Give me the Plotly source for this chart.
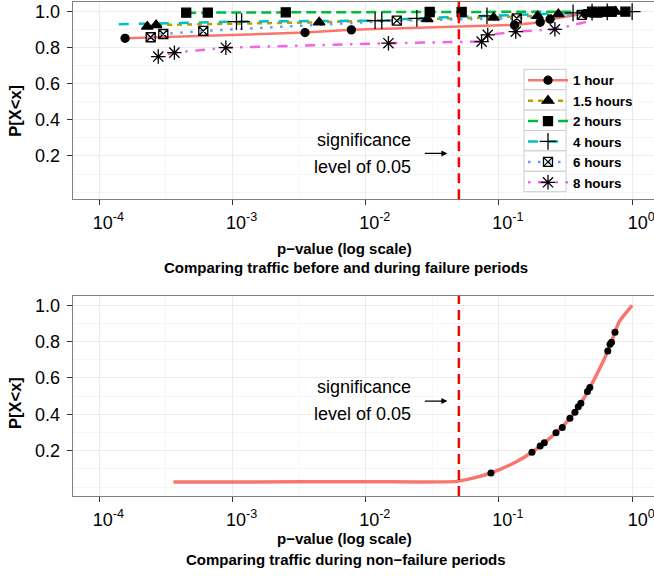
import numpy as np
import plotly.graph_objects as go

W, H = 654, 576
FONT = "Liberation Sans, Arial, Helvetica, sans-serif"

SERIES = ["1 hour", "1.5 hours", "2 hours", "4 hours", "6 hours", "8 hours"]
COLORS = ["#F8766D", "#B79F00", "#00BA38", "#00BFC4", "#619CFF", "#F564E3"]
SYMBOLS = ["circle", "triangle-up", "square", "cross-thin-open", "square-x-open", "asterisk-open"]
MSIZES = [8, 10, 9, 12, 9, 12]
DASHES = ["solid", "5px,5px", "10px,5px", "10px,10px", "2.5px,7.5px", "2.5px,7.5px,10px,7.5px"]

ALPHA = 0.05

# ---- top panel: p-values and empirical CDF; MARK = 1 if a symbol is drawn
P_1H = [1.56e-4, 3.5e-3, 7.8e-3, 0.131, 0.204, 0.242, 0.444, 0.49, 0.55, 0.62, 0.70]
F_1H = [0.852, 0.884, 0.899, 0.926, 0.941, 0.958, 0.989, 0.992, 0.995, 0.998, 1.0]
M_1H = [1, 1, 1, 1, 1, 1, 1, 1, 1, 1, 1]

P_15H = [2.29e-4, 2.67e-4, 4.47e-3, 0.029, 0.0912, 0.195, 0.279, 0.50, 0.60, 0.75]
F_15H = [0.917, 0.926, 0.941, 0.958, 0.967, 0.976, 0.986, 0.992, 0.995, 1.0]
M_15H = [1, 1, 1, 1, 1, 1, 1, 1, 1, 1]

P_2H = [4.49e-4, 6.52e-4, 2.51e-3, 0.0302, 0.0525, 0.50, 0.60, 0.70, 0.89]
F_2H = [0.994, 0.995, 0.996, 0.998, 0.999, 1.0, 1.0, 1.0, 1.0]
M_2H = [1, 1, 1, 1, 1, 1, 1, 1, 1]

P_4H = [1.4e-4, 1.07e-3, 1.17e-3, 0.01175, 0.0132, 0.0242, 0.0813, 0.36, 0.50, 0.65, 1.0]
F_4H = [0.930, 0.945, 0.945, 0.950, 0.950, 0.963, 0.976, 0.993, 0.997, 0.999, 1.0]
M_4H = [0, 1, 1, 1, 1, 1, 1, 1, 1, 1, 1]

P_6H = [2.43e-4, 3.02e-4, 6.03e-4, 0.0171, 0.136, 0.419, 0.55, 0.70]
F_6H = [0.858, 0.876, 0.893, 0.950, 0.963, 0.982, 0.995, 1.0]
M_6H = [1, 1, 1, 1, 1, 1, 1, 1]

P_8H = [2.77e-4, 3.66e-4, 8.91e-4, 0.0148, 0.0741, 0.0824, 0.1337, 0.263, 0.50]
F_8H = [0.751, 0.773, 0.800, 0.825, 0.834, 0.871, 0.889, 0.902, 0.950]
M_8H = [1, 1, 1, 1, 1, 1, 1, 1, 0]

TOP_P = [P_1H, P_15H, P_2H, P_4H, P_6H, P_8H]
TOP_F = [F_1H, F_15H, F_2H, F_4H, F_6H, F_8H]
TOP_M = [M_1H, M_15H, M_2H, M_4H, M_6H, M_8H]

# ---- bottom panel
BOT_LINE_P = [3.6e-4, 1e-3, 1e-2, 0.048, 0.065, 0.087, 0.135, 0.177, 0.219, 0.268,
              0.341, 0.412, 0.481, 0.56, 0.656, 0.743, 0.80, 1.0]
BOT_LINE_F = [0.027, 0.028, 0.029, 0.031, 0.050, 0.077, 0.139, 0.191, 0.244, 0.299,
              0.378, 0.461, 0.547, 0.640, 0.748, 0.851, 0.910, 1.0]
BOT_DOT_P = [0.0871, 0.177, 0.204, 0.219, 0.268, 0.299, 0.341, 0.372, 0.394, 0.412,
             0.462, 0.481, 0.656, 0.682, 0.700, 0.743]
BOT_DOT_F = [0.077, 0.191, 0.226, 0.244, 0.299, 0.328, 0.378, 0.411, 0.442, 0.461,
             0.525, 0.547, 0.748, 0.785, 0.796, 0.851]

X_TICKS = [1e-4, 1e-3, 1e-2, 1e-1, 1.0]
X_TICKTEXT = ["10<sup>-4</sup>", "10<sup>-3</sup>", "10<sup>-2</sup>", "10<sup>-1</sup>", "10<sup>0</sup>"]
Y_TICKS = [0.2, 0.4, 0.6, 0.8, 1.0]
Y_TICKTEXT = ["0.2", "0.4", "0.6", "0.8", "1.0"]

X_TITLE = "p\u2212value (log scale)"
TOP_CAPTION = "Comparing traffic before and during failure periods"
BOT_CAPTION = "Comparing traffic during non\u2212failure periods"
Y_TITLE = "P[X&lt;x]"

# ---------------- layout geometry (pixels) ----------------
PX_LEFT = 72.7
TOP_T, TOP_B = 1.7, 199.3
BOT_T, BOT_B = 296.0, 496.0
KEY_L, KEY_R, KEY_T, KEY_H = 524.0, 566.0, 69.3, 20.4


def fy(py):
    return 1 - py / H


def fx(px):
    return px / W


fig = go.Figure()

# top panel traces
for name, col, sym, ms, dash, P, F, M in zip(SERIES, COLORS, SYMBOLS, MSIZES, DASHES, TOP_P, TOP_F, TOP_M):
    fig.add_trace(go.Scatter(x=P, y=F, mode="lines", line=dict(color=col, width=2.5, dash=dash),
                             showlegend=False, hoverinfo="skip", xaxis="x", yaxis="y"))
for name, col, sym, ms, dash, P, F, M in zip(SERIES, COLORS, SYMBOLS, MSIZES, DASHES, TOP_P, TOP_F, TOP_M):
    px_ = [p for p, m in zip(P, M) if m]
    fy_ = [f for f, m in zip(F, M) if m]
    fig.add_trace(go.Scatter(x=px_, y=fy_, mode="markers",
                             marker=dict(symbol=sym, size=ms, color="black",
                                         line=dict(color="black", width=1.3)),
                             showlegend=False, xaxis="x", yaxis="y"))
# legend entries
for name, col, sym, ms, dash in zip(SERIES, COLORS, SYMBOLS, MSIZES, DASHES):
    fig.add_trace(go.Scatter(x=[None], y=[None], mode="lines+markers", name=name,
                             line=dict(color=col, width=2.5, dash=dash),
                             marker=dict(symbol=sym, size=ms, color="black",
                                         line=dict(color="black", width=1.3)),
                             xaxis="x", yaxis="y"))

# bottom panel traces
fig.add_trace(go.Scatter(x=BOT_LINE_P, y=BOT_LINE_F, mode="lines",
                         line=dict(color=COLORS[0], width=3.5, shape="spline", smoothing=0.6),
                         showlegend=False, xaxis="x2", yaxis="y2"))
fig.add_trace(go.Scatter(x=BOT_DOT_P, y=BOT_DOT_F, mode="markers",
                         marker=dict(size=7, color="black"), showlegend=False,
                         xaxis="x2", yaxis="y2"))

XMIN_LOG = -4.2
XMAX_LOG = 0.164


def xaxis_cfg(anchor):
    return dict(type="log", domain=[fx(PX_LEFT), 1.0], range=[XMIN_LOG, XMAX_LOG],
                tickmode="array", tickvals=X_TICKS, ticktext=X_TICKTEXT,
                ticks="outside", ticklen=5, tickwidth=1, tickcolor="#333333",
                showline=True, linecolor="#808080", linewidth=1, mirror=True,
                showgrid=True, gridcolor="#EBEBEB", gridwidth=1, zeroline=False,
                minor=dict(tickvals=[10 ** (k + 0.5) for k in range(-5, 1)], showgrid=True,
                           gridcolor="#F6F6F6", gridwidth=1, ticks=""),
                tickfont=dict(family=FONT, size=18, color="#000000"),
                ticklabelshift=9, ticklabelstandoff=2, ticklabeloverflow="allow",
                anchor=anchor, automargin=False)


def yaxis_cfg(anchor, dom, rng):
    return dict(domain=dom, range=rng, tickmode="array", tickvals=Y_TICKS, ticktext=Y_TICKTEXT,
                ticks="outside", ticklen=5, tickwidth=1, tickcolor="#333333",
                showline=True, linecolor="#808080", linewidth=1, mirror=False,
                showgrid=True, gridcolor="#EBEBEB", gridwidth=1, zeroline=False,
                minor=dict(tickvals=[0.0, 0.1, 0.3, 0.5, 0.7, 0.9], showgrid=True,
                           gridcolor="#F6F6F6", gridwidth=1, ticks=""),
                tickfont=dict(family=FONT, size=18, color="#000000"),
                ticklabelstandoff=3, ticklabeloverflow="allow",
                anchor=anchor, automargin=False)


fig.update_layout(
    width=W, height=H, margin=dict(l=0, r=0, t=0, b=0),
    template="none", paper_bgcolor="white", plot_bgcolor="white",
    font=dict(family=FONT, color="black"),
    xaxis=xaxis_cfg("y"),
    yaxis=yaxis_cfg("x", [fy(TOP_B), fy(TOP_T)], [-0.04, 1.055]),
    xaxis2=xaxis_cfg("y2"),
    yaxis2=yaxis_cfg("x2", [fy(BOT_B), fy(BOT_T)], [-0.0495, 1.051]),
    legend=dict(x=fx(523), y=fy(65), xanchor="left", yanchor="top",
                bgcolor="rgba(0,0,0,0)", borderwidth=0,
                font=dict(family=FONT, size=13.4, color="black", weight="bold"),
                itemwidth=40, tracegroupgap=0),
    showlegend=True,
)

# legend key boxes
for i in range(len(SERIES)):
    fig.add_shape(type="rect", xref="paper", yref="paper",
                  x0=fx(KEY_L), x1=fx(KEY_R), y0=fy(KEY_T + (i + 1) * KEY_H), y1=fy(KEY_T + i * KEY_H),
                  line=dict(color="#CCCCCC", width=1), fillcolor="white", layer="above")

# significance threshold lines (shape x in data units of the log axis)
for xr, yr in (("x", "y"), ("x2", "y2")):
    fig.add_shape(type="line", xref=xr, yref=yr + " domain",
                  x0=ALPHA, x1=ALPHA, y0=0, y1=1,
                  line=dict(color="#FF0000", width=2.5, dash="10px,6px"), layer="above")

# annotations: significance text and arrows
ann_font = dict(family=FONT, size=18, color="black")
for xr, yr, y1, y2, ya in (("x", "y", 0.289, 0.139, 0.214), ("x2", "y2", 0.548, 0.399, 0.473)):
    fig.add_annotation(x=-1.649, y=y1, xref=xr, yref=yr, text="significance", showarrow=False,
                       xanchor="right", yanchor="middle", font=ann_font)
    fig.add_annotation(x=-1.649, y=y2, xref=xr, yref=yr, text="level of 0.05", showarrow=False,
                       xanchor="right", yanchor="middle", font=ann_font)
    fig.add_annotation(x=-1.387, y=ya, xref=xr, yref=yr, ax=-1.568, ay=ya, axref=xr, ayref=yr,
                       text="", showarrow=True, arrowhead=2, arrowsize=1, arrowwidth=1.2,
                       arrowcolor="black", standoff=0, startstandoff=0)

# axis titles / captions
title_font = dict(family=FONT, size=15, color="black", weight="bold")
for bot_px, t1, t2, cap in ((TOP_B, 49.5, 68.0, TOP_CAPTION), (BOT_B, 42.0, 63.0, BOT_CAPTION)):
    fig.add_annotation(x=fx(344), y=fy(bot_px + t1), xref="paper", yref="paper", text=X_TITLE,
                       showarrow=False, xanchor="center", yanchor="middle", font=title_font)
    fig.add_annotation(x=fx(346), y=fy(bot_px + t2), xref="paper", yref="paper", text=cap,
                       showarrow=False, xanchor="center", yanchor="middle", font=title_font)
for yc in (110.7, 403.0):
    fig.add_annotation(x=fx(15), y=fy(yc), xref="paper", yref="paper", text=Y_TITLE,
                       showarrow=False, textangle=-90, xanchor="center", yanchor="middle",
                       font=dict(family=FONT, size=16.5, color="black", weight="bold"))

fig.write_html("out.html")
